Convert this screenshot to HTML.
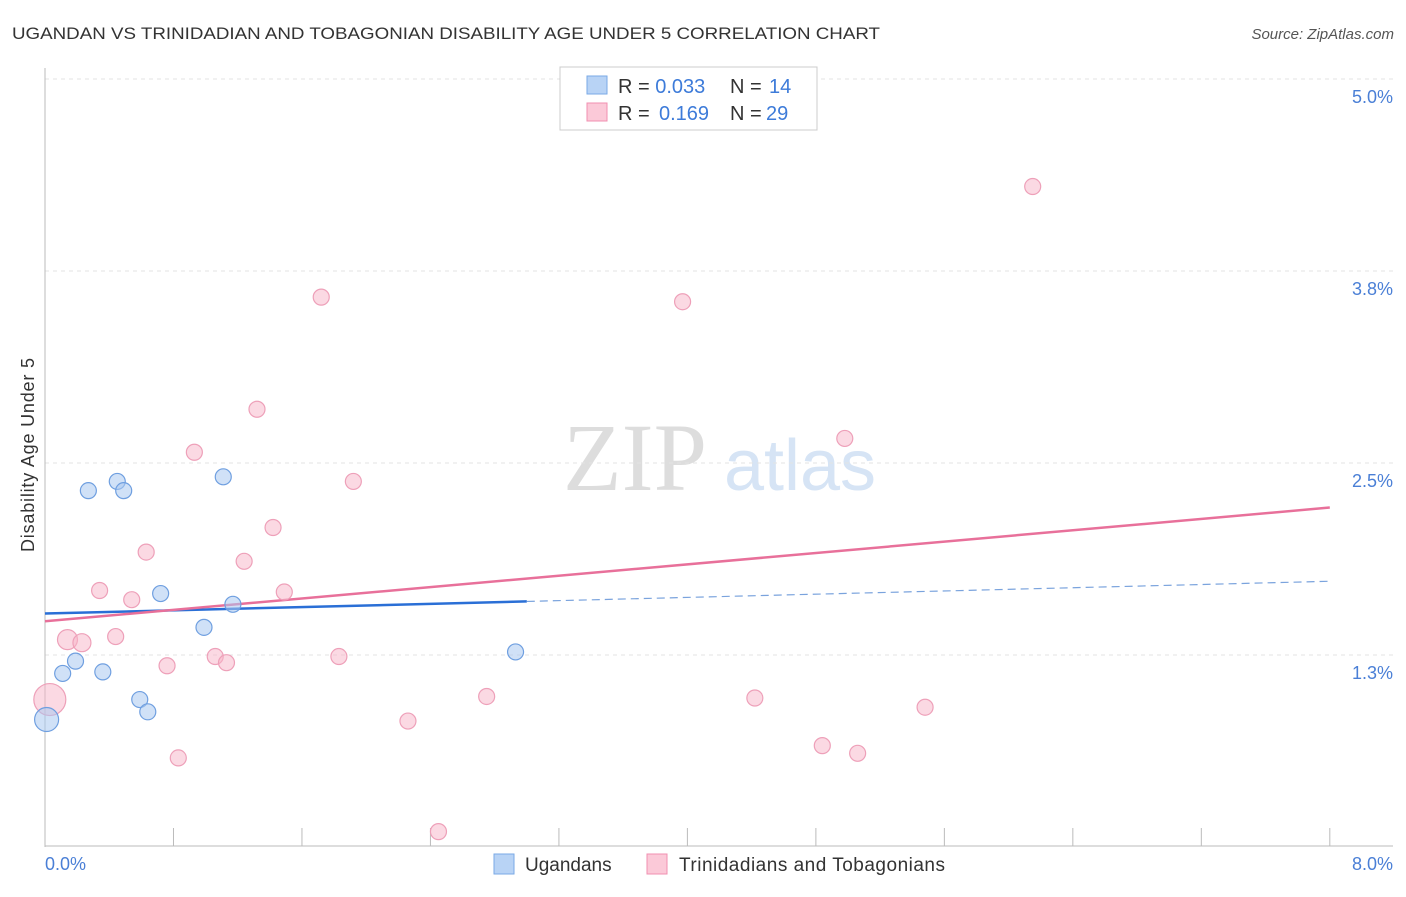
<!DOCTYPE html>
<html><head><meta charset="utf-8"><style>
body{margin:0;background:#fff;font-family:"Liberation Sans",sans-serif}
</style></head><body>
<svg width="1406" height="892" xmlns="http://www.w3.org/2000/svg">
<text x="12" y="39" font-size="17" fill="#333" textLength="868" lengthAdjust="spacingAndGlyphs">UGANDAN VS TRINIDADIAN AND TOBAGONIAN DISABILITY AGE UNDER 5 CORRELATION CHART</text>
<text x="1394" y="39" font-size="15" fill="#555" font-style="italic" text-anchor="end">Source: ZipAtlas.com</text>
<g><text x="635" y="490" font-size="96" fill="#ddd" font-family="Liberation Serif" text-anchor="middle">ZIP</text><text x="800" y="490" font-size="72" fill="#d6e4f5" text-anchor="middle">atlas</text></g>
<g id="grid"></g><g id="axes"></g><g id="trends"></g><g id="points"></g>
<text transform="translate(34,455) rotate(-90)" font-size="18" fill="#333" text-anchor="middle" textLength="194">Disability Age Under 5</text>
<text x="45" y="870" font-size="18" fill="#4a7fd6">0.0%</text>
<text x="1393" y="870" font-size="18" fill="#4a7fd6" text-anchor="end">8.0%</text>
<g>
<rect x="560" y="67" width="257" height="63" fill="#fff" stroke="#ccc"/>
<rect x="587" y="76" width="20" height="18" fill="#b8d3f5" stroke="#7aaae6"/>
<rect x="587" y="103" width="20" height="18" fill="#fbc9d8" stroke="#f08fb0"/>
<text x="618" y="93" font-size="20" fill="#333">R = <tspan fill="#3d7bd9">0.033</tspan><tspan x="730">N = </tspan><tspan x="769" fill="#3d7bd9">14</tspan></text>
<text x="618" y="120" font-size="20" fill="#333">R = <tspan x="659" fill="#3d7bd9">0.169</tspan><tspan x="730">N = </tspan><tspan x="766" fill="#3d7bd9">29</tspan></text>
</g>
<g>
<rect x="494" y="854" width="20" height="20" fill="#b8d3f5" stroke="#7aaae6"/>
<text x="525" y="871" font-size="19" fill="#333">Ugandans</text>
<rect x="647" y="854" width="20" height="20" fill="#fbc9d8" stroke="#f08fb0"/>
<text x="679" y="871" font-size="19" fill="#333" textLength="266">Trinidadians and Tobagonians</text>
</g>
</svg>
<script>
const yTicks=[1.25,2.5,3.75,5.0];
const yTickLabels=["1.3%","2.5%","3.8%","5.0%"];
const blueX=[0.01,0.11,0.19,0.27,0.36,0.45,0.49,0.59,0.64,0.72,0.99,1.11,1.17,2.93];
const blueY=[0.83,1.13,1.21,2.32,1.14,2.38,2.32,0.96,0.88,1.65,1.43,2.41,1.58,1.27];
const blueR=[12,8,8,8,8,8,8,8,8,8,8,8,8,8];
const pinkX=[0.03,0.14,0.23,0.34,0.44,0.54,0.63,0.76,0.83,0.93,1.06,1.13,1.24,1.32,1.42,1.49,1.72,1.83,1.92,2.26,2.45,2.75,3.97,4.42,4.84,4.98,5.06,5.48,6.15];
const pinkY=[0.96,1.35,1.33,1.67,1.37,1.61,1.92,1.18,0.58,2.57,1.24,1.20,1.86,2.85,2.08,1.66,3.58,1.24,2.38,0.82,0.10,0.98,3.55,0.97,0.66,2.66,0.61,0.91,4.30];
const pinkR=[16,10,9,8,8,8,8,8,8,8,8,8,8,8,8,8,8,8,8,8,8,8,8,8,8,8,8,8,8];
const blueTrend=[1.52,1.73];const blueSolidEnd=3.0;
const pinkTrend=[1.47,2.21];
const X=v=>45+v*160.6, Y=v=>847-v*153.6;
const NS="http://www.w3.org/2000/svg";
function mk(t,a,p){const e=document.createElementNS(NS,t);for(const k in a)e.setAttribute(k,a[k]);document.getElementById(p).appendChild(e);return e;}
yTicks.forEach((t,i)=>{
 const l=mk('line',{x1:45,x2:1393,y1:Y(t),y2:Y(t),stroke:'#e3e3e3','stroke-dasharray':'4,4'},'grid');
 
 
 const tx=mk('text',{x:1393,y:Y(t)+24,'font-size':18,fill:'#4a7fd6','text-anchor':'end'},'grid');
 tx.textContent=yTickLabels[i];
 
 
});
const ax=mk('line',{x1:45,x2:45,y1:68,y2:847,stroke:'#bbb'},'axes');


const bx=mk('line',{x1:45,x2:1393,y1:846,y2:846,stroke:'#bbb'},'axes');


for(let i=1;i<=10;i++){const t=mk('line',{x1:X(i*0.8),x2:X(i*0.8),y1:828,y2:846,stroke:'#bbb'},'axes');
 
 }
const lin=(tr,x)=>tr[0]+(tr[1]-tr[0])*x/8;
let e=mk('line',{x1:X(0),y1:Y(lin(blueTrend,0)),x2:X(blueSolidEnd),y2:Y(lin(blueTrend,blueSolidEnd)),stroke:'#2a6fd6','stroke-width':2.5},'trends');


e=mk('line',{x1:X(blueSolidEnd),y1:Y(lin(blueTrend,blueSolidEnd)),x2:X(8),y2:Y(lin(blueTrend,8)),stroke:'#7aa3dd','stroke-width':1.2,'stroke-dasharray':'8,5'},'trends');


e=mk('line',{x1:X(0),y1:Y(lin(pinkTrend,0)),x2:X(8),y2:Y(lin(pinkTrend,8)),stroke:'#e8709a','stroke-width':2.5},'trends');


pinkX.forEach((x,i)=>{const c=mk('circle',{cx:X(x),cy:Y(pinkY[i]),r:pinkR[i],fill:'rgba(248,180,200,0.5)',stroke:'#eea0b9','stroke-width':1.2},'points');
 
 });
blueX.forEach((x,i)=>{const c=mk('circle',{cx:X(x),cy:Y(blueY[i]),r:blueR[i],fill:'rgba(170,200,240,0.55)',stroke:'#6f9fe0','stroke-width':1.2},'points');
 
 });
</script>
</body></html>
